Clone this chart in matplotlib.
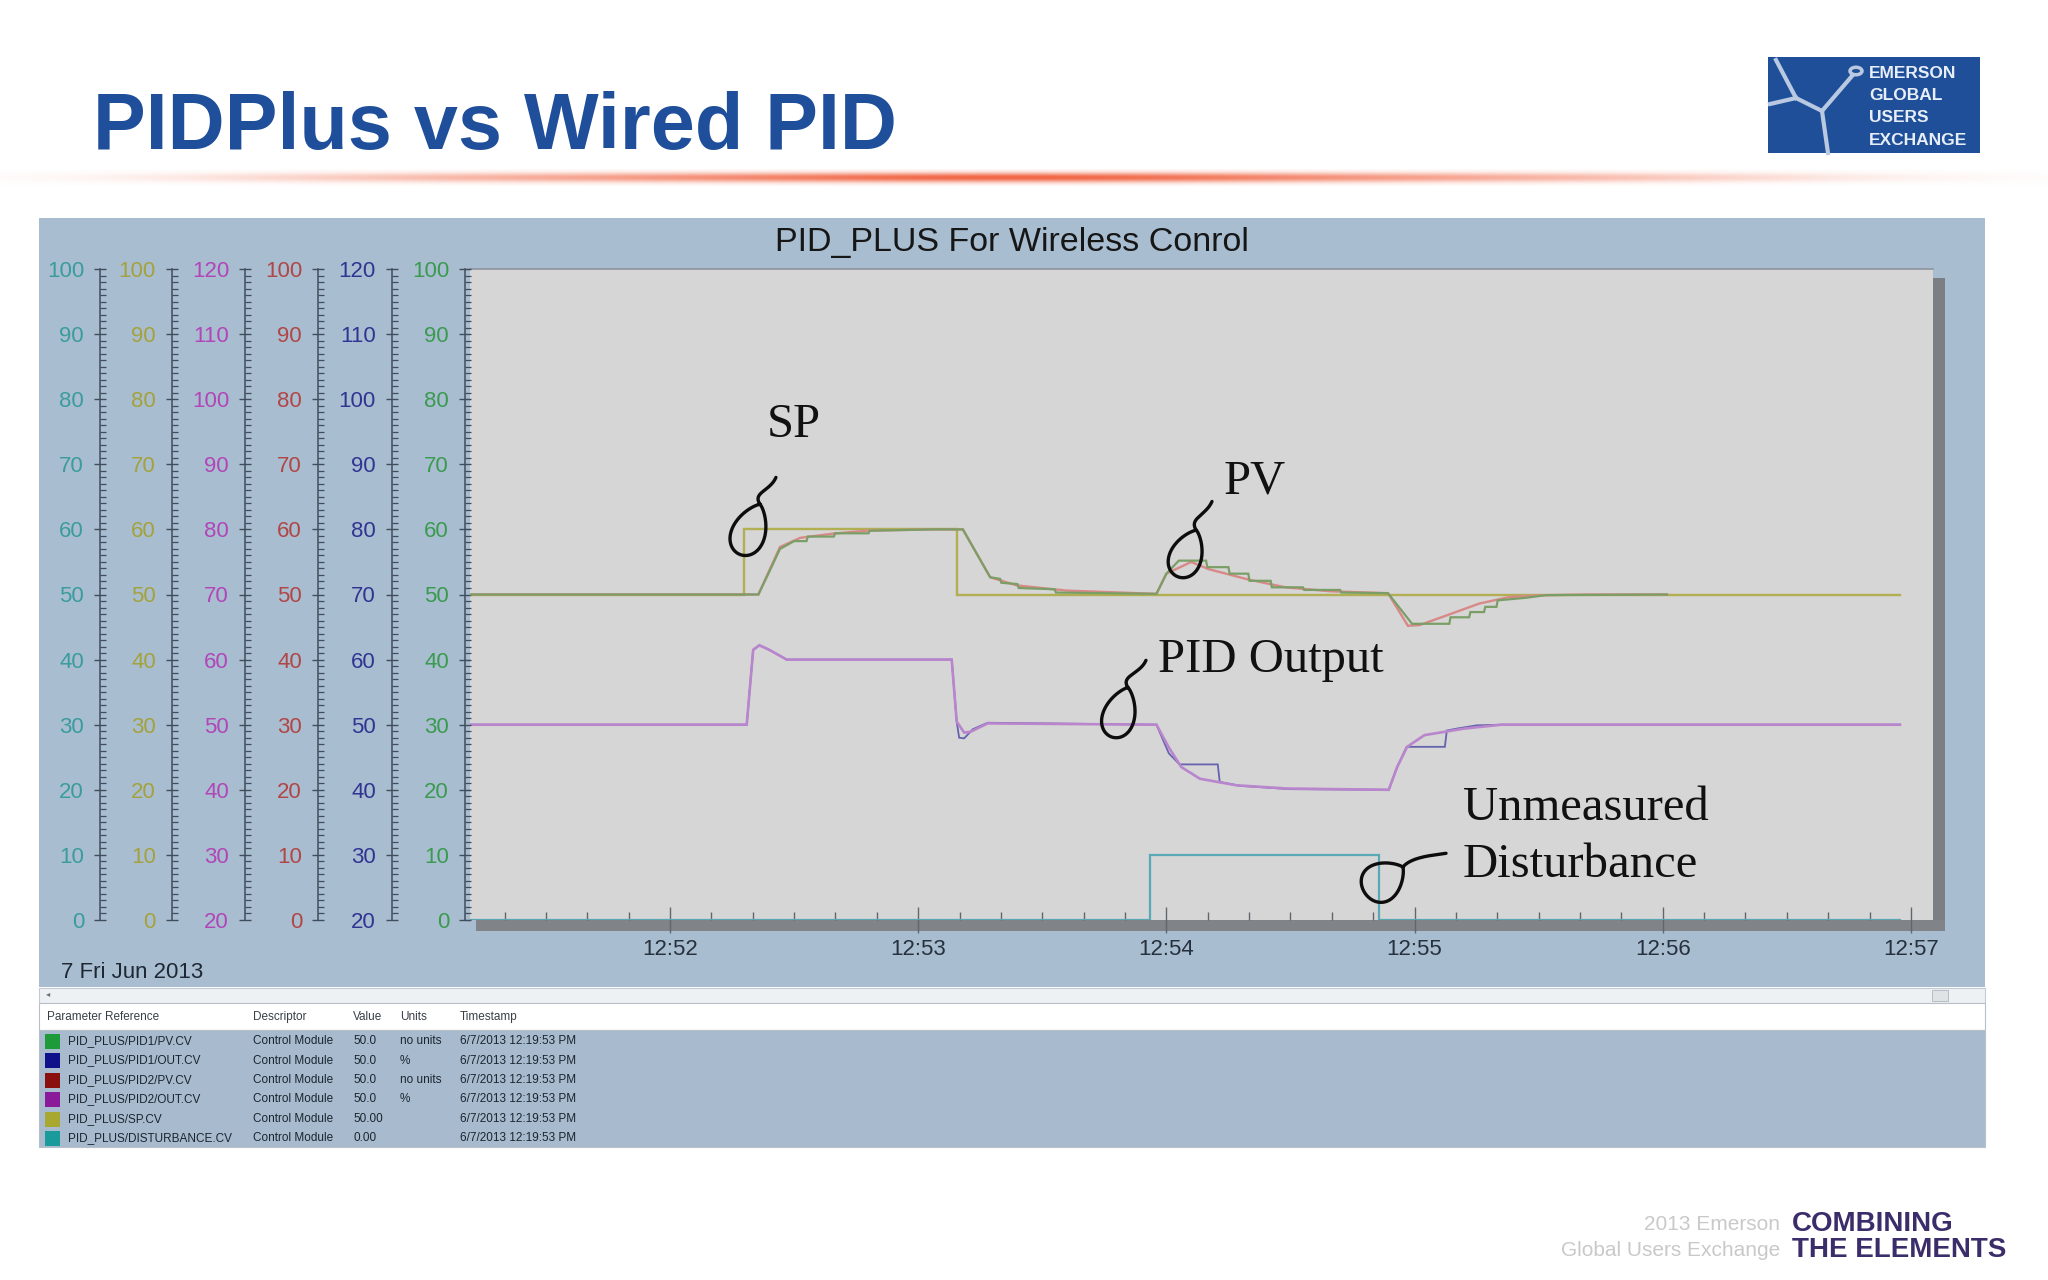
import numpy as np
import matplotlib
matplotlib.use('Agg')
import matplotlib.pyplot as plt
from matplotlib.patches import Rectangle, Circle
from matplotlib.ticker import MultipleLocator, FixedLocator
from matplotlib.lines import Line2D
import matplotlib.transforms as mtransforms

W, H = 2048, 1280
plt.rcParams['font.family'] = ['Liberation Sans', 'DejaVu Sans']

# ---------------- data (time in minutes after 12:00) ----------------
sp_t = [51.19, 52.30, 52.30, 53.158, 53.158, 56.956]
sp_v = [50, 50, 60, 60, 50, 50]

pv1_t = [51.19, 52.356, 52.40, 52.443, 52.50, 52.55, 52.555, 52.66, 52.665, 52.80, 52.805,
         53.06, 53.18, 53.29, 53.33, 53.335, 53.40, 53.405, 53.55, 53.555, 53.96, 54.0,
         54.05, 54.16, 54.165, 54.25, 54.255, 54.33, 54.335, 54.42, 54.425, 54.55, 54.555,
         54.70, 54.705, 54.893, 54.99, 55.14, 55.145, 55.22, 55.225, 55.28, 55.285, 55.33,
         55.335, 55.45, 55.53, 56.017]
pv1_v = [50, 50, 53.5, 57.0, 58.2, 58.2, 58.9, 58.9, 59.4, 59.4, 59.8,
         60, 60, 52.65, 52.4, 51.8, 51.6, 51.0, 50.8, 50.3, 50.1, 53.2,
         55.2, 55.2, 54.2, 54.2, 53.2, 53.2, 52.1, 52.1, 51.1, 51.1, 50.7,
         50.7, 50.3, 50.2, 45.5, 45.5, 46.5, 46.5, 47.3, 47.3, 48.1, 48.1,
         49.1, 49.5, 49.9, 50]

pv2_t = [51.19, 52.356, 52.40, 52.443, 52.524, 52.657, 52.79, 53.06, 53.18, 53.29, 53.397,
         53.598, 53.96, 54.0, 54.1, 54.17, 54.33, 54.48, 54.66, 54.893, 54.973, 55.02,
         55.13, 55.26, 55.38, 55.53, 55.7, 56.017]
pv2_v = [50, 50, 53.7, 57.3, 58.7, 59.35, 59.8, 60, 60, 52.65, 51.4,
         50.6, 50.1, 53.2, 55.0, 53.9, 52.3, 51.1, 50.5, 50.2, 45.2, 45.3,
         46.8, 48.6, 49.6, 49.9, 50, 50]

out1_t = [51.19, 52.309, 52.335, 52.36, 52.40, 52.47, 53.135, 53.155, 53.165, 53.185, 53.22,
          53.28, 53.96, 54.01, 54.053, 54.207, 54.215, 54.30, 54.5, 54.896, 54.93, 54.968,
          55.122, 55.13, 55.17, 55.25, 55.35, 56.956]
out1_v = [50, 50, 61.5, 62.2, 61.5, 60.0, 60, 50.5, 48.0, 47.9, 49.3,
          50.3, 50, 45.6, 43.9, 43.9, 41.2, 40.6, 40.1, 40, 43.5, 46.6,
          46.6, 49.1, 49.4, 49.9, 50, 50]

out2_t = [51.19, 52.309, 52.335, 52.36, 52.40, 52.47, 53.135, 53.155, 53.185, 53.21, 53.28,
          53.96, 54.01, 54.06, 54.135, 54.28, 54.485, 54.896, 54.93, 54.97, 55.04, 55.2,
          55.35, 56.956]
out2_v = [50, 50, 61.5, 62.2, 61.5, 60.0, 60, 50.5, 48.8, 48.9, 50.2,
          50, 46.5, 43.5, 41.7, 40.7, 40.2, 40, 43.5, 46.6, 48.4, 49.4,
          50, 50]

dist_t = [51.19, 53.932, 53.932, 54.858, 54.858, 56.956]
dist_v = [0, 0, 10, 10, 0, 0]

time_ticks = [52, 53, 54, 55, 56, 57]
time_labels = ["12:52", "12:53", "12:54", "12:55", "12:56", "12:57"]

tbl_refs = ["PID_PLUS/PID1/PV.CV", "PID_PLUS/PID1/OUT.CV", "PID_PLUS/PID2/PV.CV",
            "PID_PLUS/PID2/OUT.CV", "PID_PLUS/SP.CV", "PID_PLUS/DISTURBANCE.CV"]
tbl_desc = ["Control Module"] * 6
tbl_vals = ["50.0", "50.0", "50.0", "50.0", "50.00", "0.00"]
tbl_units = ["no units", "%", "no units", "%", "", ""]
tbl_time = ["6/7/2013 12:19:53 PM"] * 6
tbl_colors = ["#1f9a3a", "#10108a", "#8a1010", "#8a1a9a", "#a8a830", "#1a9a9a"]

# ---------------- helpers ----------------
fig = plt.figure(figsize=(W / 100, H / 100), dpi=100)
fig.patch.set_facecolor('white')


def fr(x0, y0, x1, y1):
    return [x0 / W, 1 - y1 / H, (x1 - x0) / W, (y1 - y0) / H]


def rect(x0, y0, x1, y1, **kw):
    l, b, w, h = fr(x0, y0, x1, y1)
    r = Rectangle((l, b), w, h, transform=fig.transFigure, **kw)
    fig.add_artist(r)
    return r


def ftext(x, y, s, **kw):
    return fig.text(x / W, 1 - y / H, s, **kw)


# ---------------- slide decoration ----------------
ftext(93, 149, "PIDPlus vs Wired PID", fontsize=57, fontweight='bold',
      color='#1f4e9b', va='baseline', ha='left')

# gradient rule
axg = fig.add_axes(fr(0, 169, W, 186))
axg.axis('off')
xs = np.linspace(0, W, 1024)
wx = 0.6 * np.exp(-((xs - 1010) / 760) ** 4) + 0.4 * np.exp(-((xs - 1010) / 300) ** 2)
ys = np.linspace(-1, 1, 17)
wy = np.exp(-(ys / 0.6) ** 2)
wgt = wy[:, None] * wx[None, :]
coral = np.array([0.945, 0.40, 0.27])
img = (1 - wgt[..., None]) * 1.0 + wgt[..., None] * coral
axg.imshow(img, aspect='auto', extent=[0, 1, 0, 1])

# logo
rect(1768, 57, 1980, 153, facecolor='#1e4f98', edgecolor='none')
lc = '#b9c9e2'
for (xa, ya), (xb, yb) in [((1776, 60), (1796, 98)), ((1796, 98), (1822, 111)),
                           ((1822, 111), (1852, 76)), ((1822, 111), (1828, 153)),
                           ((1796, 98), (1770, 104))]:
    fig.add_artist(Line2D([xa / W, xb / W], [1 - ya / H, 1 - yb / H], color=lc, lw=3,
                          transform=fig.transFigure))
fig.add_artist(Circle((1856 / W, 1 - 71 / H), 6 / W, transform=fig.transFigure,
                      facecolor='#1e4f98', edgecolor=lc, lw=2.5))
for i, word in enumerate(["EMERSON", "GLOBAL", "USERS", "EXCHANGE"]):
    ftext(1869, 73 + i * 22.5, word, fontsize=12.5, color='#e8eef8', va='center',
          ha='left', fontweight='bold', fontstretch='condensed')

# footer
ftext(1780, 1225, "2013 Emerson", fontsize=15, color='#c9c9c9', ha='right', va='center')
ftext(1780, 1251, "Global Users Exchange", fontsize=15, color='#c9c9c9', ha='right', va='center')
ftext(1792, 1224, "COMBINING", fontsize=20, color='#3b2c6a', fontweight='heavy',
      ha='left', va='center')
ftext(1792, 1250, "THE ELEMENTS", fontsize=20, color='#3b2c6a', fontweight='heavy',
      ha='left', va='center')

# ---------------- trend panel ----------------
panel_c = '#a9bdd0'
rect(39, 218, 1985, 987, facecolor=panel_c, edgecolor='none', zorder=-3)
rect(1933, 278, 1945, 931, facecolor='#7b7e83', edgecolor='none', zorder=-2)
rect(476, 920, 1945, 931, facecolor='#808387', edgecolor='none', zorder=-2)

ftext(1012, 242, "PID_PLUS For Wireless Conrol", fontsize=24.5, color='#161616',
      ha='center', va='center')
ftext(61, 973, "7 Fri Jun 2013", fontsize=16, color='#1d2834', ha='left', va='center')

ax = fig.add_axes(fr(470, 269, 1933, 920))
ax.set_facecolor('#d6d6d6')
for s in ['left', 'right', 'bottom']:
    ax.spines[s].set_visible(False)
ax.spines['top'].set_color('#8e959e')
ax.spines['top'].set_linewidth(1.2)
ax.set_xlim(51.194, 57.089)
ax.set_ylim(0, 100)
ax.tick_params(axis='y', left=False, labelleft=False)
ax.xaxis.set_major_locator(FixedLocator(time_ticks))
ax.set_xticklabels(time_labels)
ax.xaxis.set_minor_locator(MultipleLocator(1 / 6))
ax.tick_params(axis='x', which='major', direction='inout', length=19, width=1,
               color='#61666d', pad=4, labelsize=16, labelcolor='#26313d')
ax.tick_params(axis='x', which='minor', direction='in', length=6, width=1,
               color='#61666d')

# y axes (left to right): disturbance, SP, OUT2, PV2, OUT1, PV1
axis_specs = [
    ('#3a9c9c', (0, 100), 266.4, dist_t, dist_v, '#58a8b6', 1.6, 1),
    ('#a3a23c', (0, 100), 214.6, sp_t, sp_v, '#b2ae52', 1.7, 2),
    ('#b046b8', (20, 120), 162.0, out2_t, out2_v, '#b986cd', 1.9, 4),
    ('#b04646', (0, 100), 109.4, pv2_t, pv2_v, '#d98888', 1.7, 5),
    ('#2f3592', (20, 120), 56.2, out1_t, out1_v, '#6563ad', 1.3, 3),
    ('#3a9a50', (0, 100), 3.6, pv1_t, pv1_v, '#7a9f66', 1.6, 6),
]
twins = []
for lab_c, ylim, off, tt, vv, line_c, lw, zo in axis_specs:
    tw = ax.twinx()
    tw.set_zorder(zo)
    tw.set_ylim(*ylim)
    for s in ['right', 'top', 'bottom']:
        tw.spines[s].set_visible(False)
    tw.spines['left'].set_visible(True)
    tw.spines['left'].set_position(('outward', off))
    tw.spines['left'].set_color('#3f4d5c')
    tw.spines['left'].set_linewidth(1.1)
    tw.yaxis.tick_left()
    tw.yaxis.set_major_locator(MultipleLocator(10))
    tw.yaxis.set_minor_locator(MultipleLocator(1))
    tw.tick_params(axis='y', which='major', direction='inout', length=9, width=1,
                   color='#3f4d5c', pad=7, labelsize=16, labelcolor=lab_c)
    tw.tick_params(axis='y', which='minor', direction='in', length=4.5, width=0.9,
                   color='#3f4d5c')
    tw.plot(tt, vv, color=line_c, lw=lw, solid_joinstyle='miter')
    tw.set_xlim(51.194, 57.089)
    tw.set_ylim(*ylim)
    twins.append(tw)

top = twins[-1]

# ---------------- hand-drawn annotations ----------------
serif = ['Liberation Serif', 'DejaVu Serif']
notes = [("SP", 52.39, 76.1), ("PV", 54.232, 67.3), ("PID Output", 53.966, 39.9),
         ("Unmeasured", 55.195, 17.2), ("Disturbance", 55.195, 8.4)]
for s, x, y in notes:
    top.text(x, y, s, family=serif, fontsize=35, color='#111111', ha='left',
             va='center', clip_on=False)


def lasso(anchor, w, h, rot, tail, bend):
    t = np.linspace(0, 2 * np.pi, 160)
    x = 0.5 * w * np.sin(t) * np.abs(np.sin(t / 2)) ** 0.6
    y = 0.5 * h * np.cos(t)
    c, s = np.cos(np.radians(rot)), np.sin(np.radians(rot))
    xr = c * x - s * y
    yr = s * x + c * y
    p0 = np.array([xr[0], yr[0]])
    p3 = np.array(tail, dtype=float)
    p1 = p0 + np.array(bend[0])
    p2 = p3 + np.array(bend[1])
    b = np.linspace(0, 1, 40)[:, None]
    curve = (1 - b) ** 3 * p0 + 3 * (1 - b) ** 2 * b * p1 + 3 * (1 - b) * b ** 2 * p2 + b ** 3 * p3
    px = np.concatenate([curve[::-1, 0], xr])
    py = np.concatenate([curve[::-1, 1], yr])
    tr = mtransforms.Affine2D() + mtransforms.ScaledTranslation(anchor[0], anchor[1], top.transData)
    top.add_line(Line2D(px, py, transform=tr, color='#0d0d0d', lw=2.4, clip_on=False,
                        solid_capstyle='round'))


lasso((52.322, 60.0), 40, 54, -22, (26, 52), ((-8, 12), (-6, -14)))
lasso((54.083, 56.3), 38, 50, -22, (25, 52), ((-8, 12), (-6, -14)))
lasso((53.813, 31.9), 38, 52, -18, (26, 52), ((-8, 12), (-6, -14)))
lasso((54.877, 6.1), 46, 46, -55, (62, 27), ((8, 10), (-14, -2)))

# ---------------- scrollbar + table ----------------
rect(39, 988, 1985, 1003, facecolor='#eef1f4', edgecolor='#c3cad2', lw=0.8)
ftext(46, 995, "\u25c2", fontsize=6, color='#707070', va='center', ha='left')
rect(1932, 990, 1948, 1001, facecolor='#e0e3e6', edgecolor='#b0b6bd', lw=0.6)
rect(39, 1003, 1985, 1030, facecolor='white', edgecolor='#b7c0c9', lw=0.8)
rect(39, 1030, 1985, 1147, facecolor='#a8bbce', edgecolor='#b7c0c9', lw=0.8)

cols_x = [47, 253, 353, 400, 460]
headers = ["Parameter Reference", "Descriptor", "Value", "Units", "Timestamp"]
for cx, hd in zip(cols_x, headers):
    ftext(cx, 1017, hd, fontsize=8.5, color='#3a3f46', va='center', ha='left')

row_y = [1041, 1060.5, 1080, 1099.5, 1119, 1138]
for i, yy in enumerate(row_y):
    rect(45, yy - 7.5, 60, yy + 7.5, facecolor=tbl_colors[i], edgecolor='none')
    ftext(68, yy, tbl_refs[i], fontsize=8.5, color='#1b2530', va='center', ha='left')
    ftext(253, yy, tbl_desc[i], fontsize=8.5, color='#1b2530', va='center', ha='left')
    ftext(353, yy, tbl_vals[i], fontsize=8.5, color='#1b2530', va='center', ha='left')
    ftext(400, yy, tbl_units[i], fontsize=8.5, color='#1b2530', va='center', ha='left')
    ftext(460, yy, tbl_time[i], fontsize=8.5, color='#1b2530', va='center', ha='left')

fig.savefig('out.png', dpi=100, facecolor='white')
